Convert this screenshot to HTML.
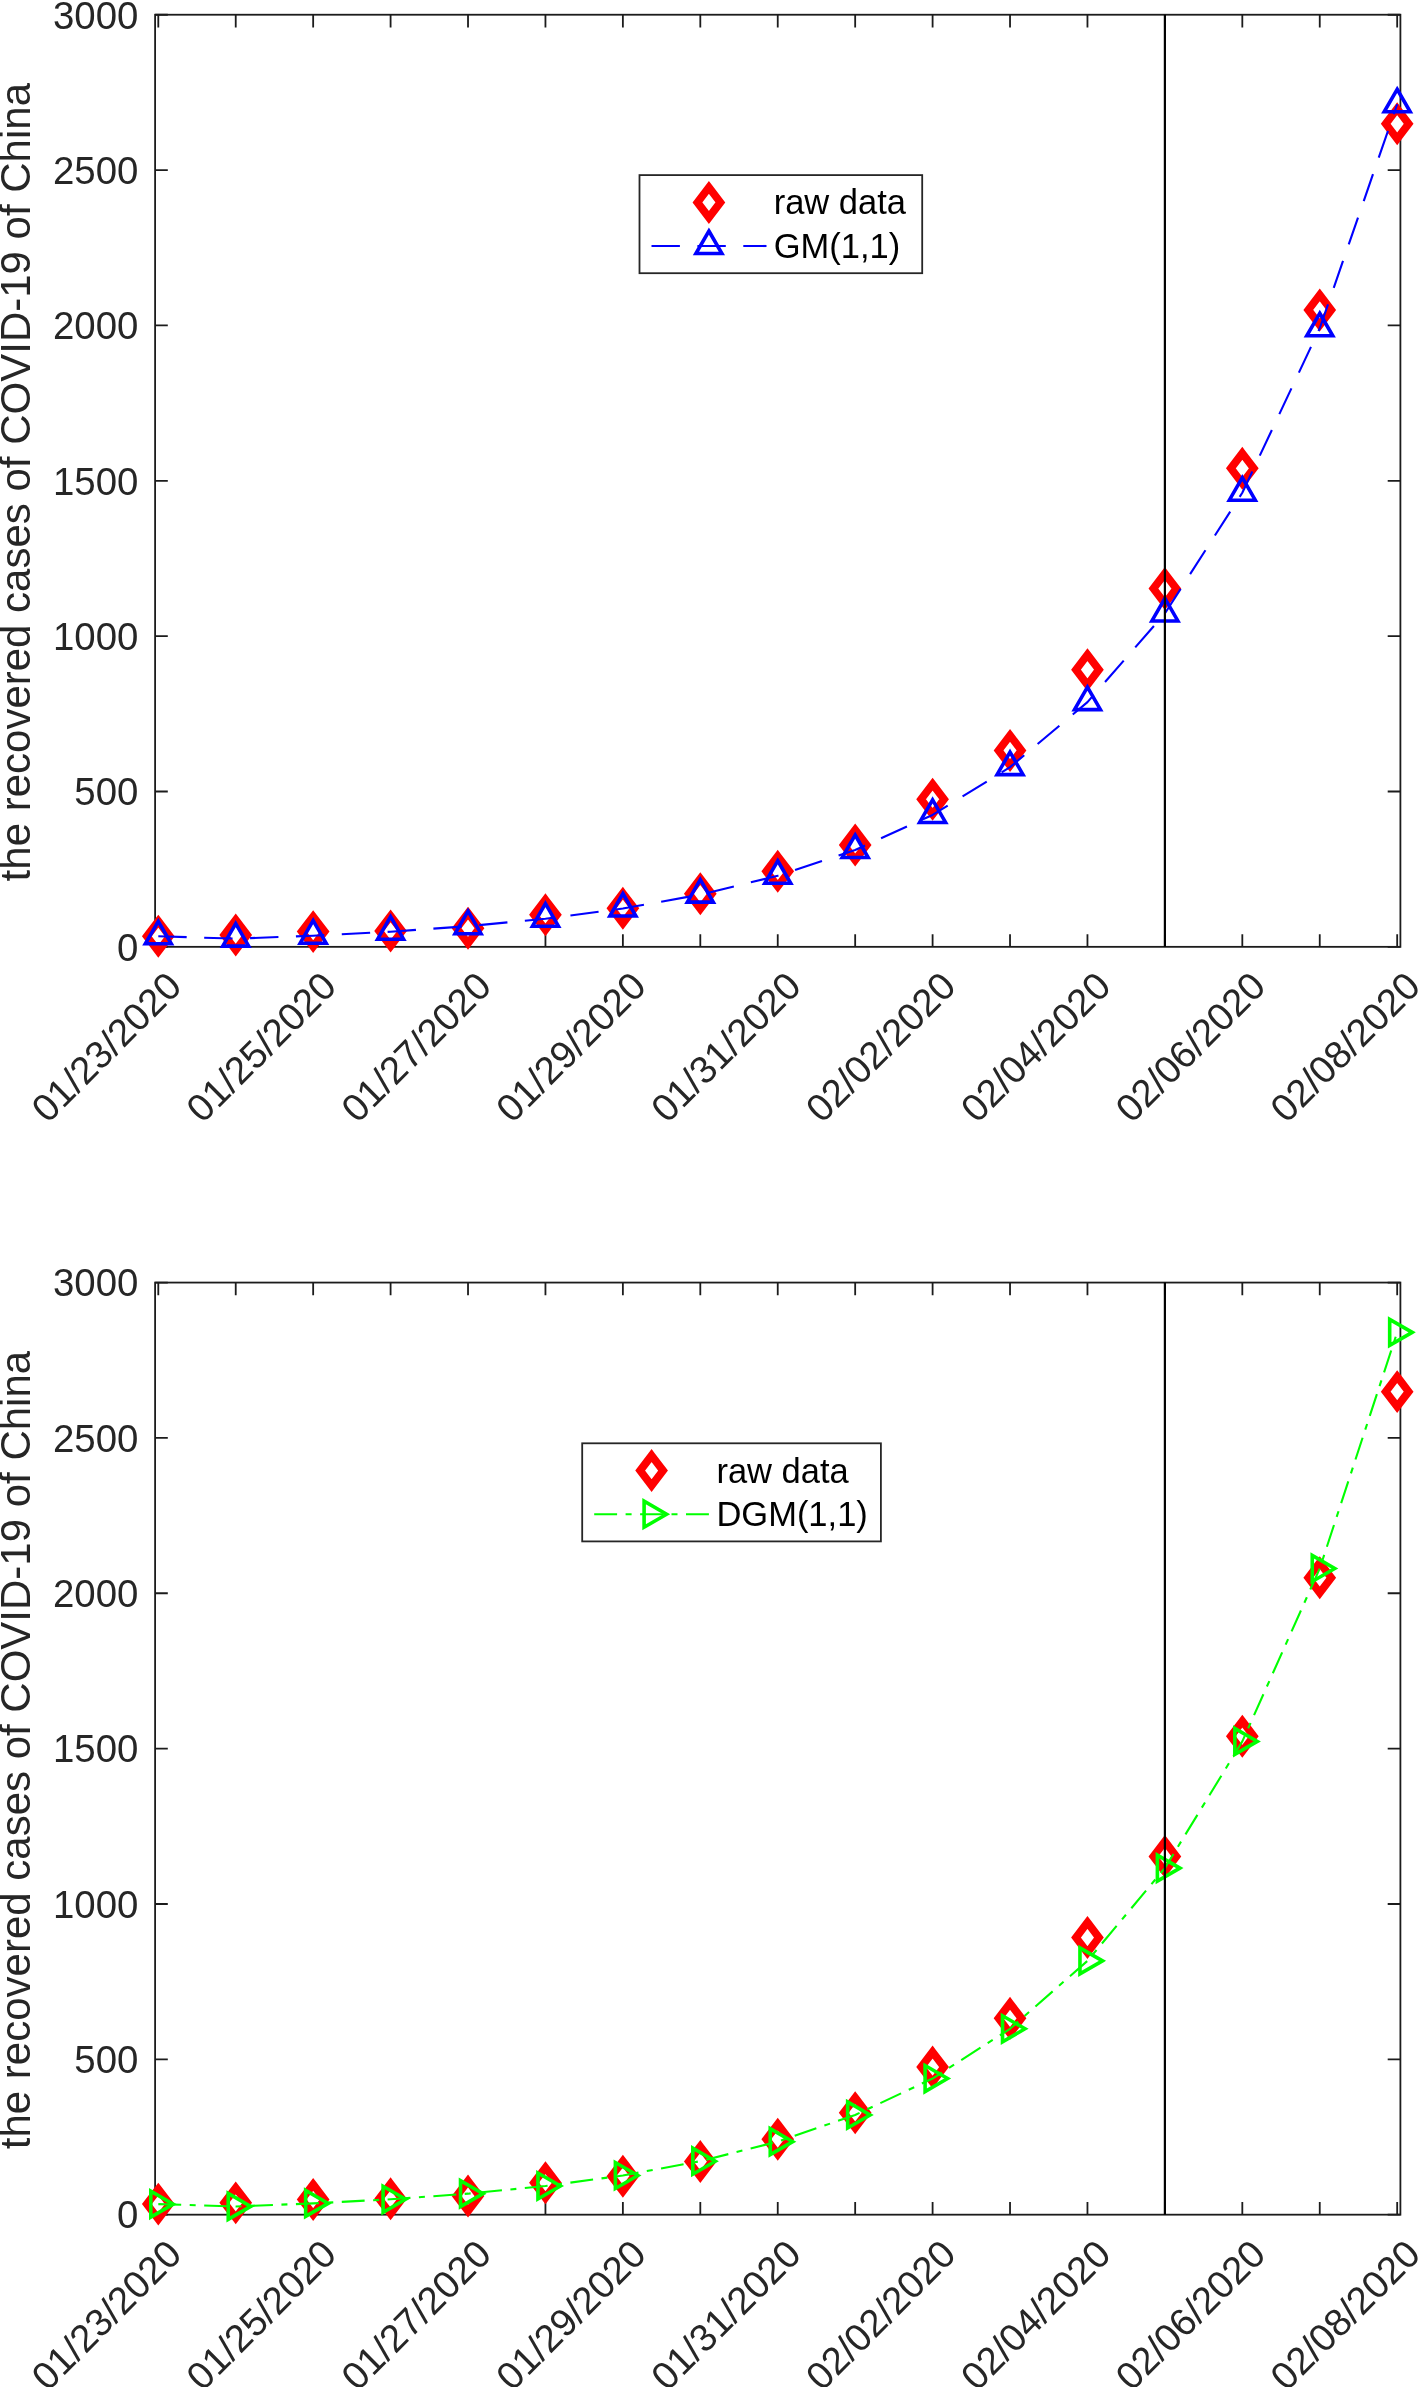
<!DOCTYPE html>
<html><head><meta charset="utf-8"><title>GM vs DGM</title>
<style>html,body{margin:0;padding:0;background:#fff;}svg{display:block;will-change:transform;}
text{font-family:"Liberation Sans",sans-serif;}</style></head>
<body><svg width="1419" height="2387" viewBox="0 0 1419 2387"><rect width="1419" height="2387" fill="#fff"/><g font-family="Liberation Sans, sans-serif" font-size="38.4" fill="#262626"><text x="138.4" y="960.64" text-anchor="end">0</text><text x="138.4" y="805.29" text-anchor="end">500</text><text x="138.4" y="649.94" text-anchor="end">1000</text><text x="138.4" y="494.59" text-anchor="end">1500</text><text x="138.4" y="339.23" text-anchor="end">2000</text><text x="138.4" y="183.88" text-anchor="end">2500</text><text x="138.4" y="28.53" text-anchor="end">3000</text><text transform="translate(183.60,988.44) rotate(-45)" text-anchor="end">01/23/2020</text><text transform="translate(338.46,988.44) rotate(-45)" text-anchor="end">01/25/2020</text><text transform="translate(493.32,988.44) rotate(-45)" text-anchor="end">01/27/2020</text><text transform="translate(648.18,988.44) rotate(-45)" text-anchor="end">01/29/2020</text><text transform="translate(803.04,988.44) rotate(-45)" text-anchor="end">01/31/2020</text><text transform="translate(957.90,988.44) rotate(-45)" text-anchor="end">02/02/2020</text><text transform="translate(1112.76,988.44) rotate(-45)" text-anchor="end">02/04/2020</text><text transform="translate(1267.62,988.44) rotate(-45)" text-anchor="end">02/06/2020</text><text transform="translate(1422.48,988.44) rotate(-45)" text-anchor="end">02/08/2020</text><text transform="translate(29.9,482.19) rotate(-90)" text-anchor="middle" font-size="42">the recovered cases of COVID-19 of China</text><text x="138.4" y="2228.48" text-anchor="end">0</text><text x="138.4" y="2073.13" text-anchor="end">500</text><text x="138.4" y="1917.78" text-anchor="end">1000</text><text x="138.4" y="1762.42" text-anchor="end">1500</text><text x="138.4" y="1607.07" text-anchor="end">2000</text><text x="138.4" y="1451.72" text-anchor="end">2500</text><text x="138.4" y="1296.37" text-anchor="end">3000</text><text transform="translate(183.60,2256.28) rotate(-45)" text-anchor="end">01/23/2020</text><text transform="translate(338.46,2256.28) rotate(-45)" text-anchor="end">01/25/2020</text><text transform="translate(493.32,2256.28) rotate(-45)" text-anchor="end">01/27/2020</text><text transform="translate(648.18,2256.28) rotate(-45)" text-anchor="end">01/29/2020</text><text transform="translate(803.04,2256.28) rotate(-45)" text-anchor="end">01/31/2020</text><text transform="translate(957.90,2256.28) rotate(-45)" text-anchor="end">02/02/2020</text><text transform="translate(1112.76,2256.28) rotate(-45)" text-anchor="end">02/04/2020</text><text transform="translate(1267.62,2256.28) rotate(-45)" text-anchor="end">02/06/2020</text><text transform="translate(1422.48,2256.28) rotate(-45)" text-anchor="end">02/08/2020</text><text transform="translate(29.9,1750.03) rotate(-90)" text-anchor="middle" font-size="42">the recovered cases of COVID-19 of China</text></g><rect x="155.1" y="14.73" width="1245.30" height="932.11" fill="none" stroke="#1c1c1c" stroke-width="1.8"/><path d="M155.1 946.84h12.7M1400.4 946.84h-12.7M155.1 791.49h12.7M1400.4 791.49h-12.7M155.1 636.14h12.7M1400.4 636.14h-12.7M155.1 480.79h12.7M1400.4 480.79h-12.7M155.1 325.43h12.7M1400.4 325.43h-12.7M155.1 170.08h12.7M1400.4 170.08h-12.7M155.1 14.73h12.7M1400.4 14.73h-12.7M158.30 946.84v-12.7M158.30 14.73v12.7M235.73 946.84v-12.7M235.73 14.73v12.7M313.16 946.84v-12.7M313.16 14.73v12.7M390.59 946.84v-12.7M390.59 14.73v12.7M468.02 946.84v-12.7M468.02 14.73v12.7M545.45 946.84v-12.7M545.45 14.73v12.7M622.88 946.84v-12.7M622.88 14.73v12.7M700.31 946.84v-12.7M700.31 14.73v12.7M777.74 946.84v-12.7M777.74 14.73v12.7M855.17 946.84v-12.7M855.17 14.73v12.7M932.60 946.84v-12.7M932.60 14.73v12.7M1010.03 946.84v-12.7M1010.03 14.73v12.7M1087.46 946.84v-12.7M1087.46 14.73v12.7M1164.89 946.84v-12.7M1164.89 14.73v12.7M1242.32 946.84v-12.7M1242.32 14.73v12.7M1319.75 946.84v-12.7M1319.75 14.73v12.7M1397.18 946.84v-12.7M1397.18 14.73v12.7" stroke="#1c1c1c" stroke-width="1.8" fill="none"/><path d="M158.30 921.23L169.75 936.28L158.30 951.33L146.85 936.28Z" fill="#fff" stroke="#FF0000" stroke-width="7.8" stroke-linejoin="miter"/><path d="M235.73 919.98L247.18 935.03L235.73 950.08L224.28 935.03Z" fill="#fff" stroke="#FF0000" stroke-width="7.8" stroke-linejoin="miter"/><path d="M313.16 916.57L324.61 931.62L313.16 946.67L301.71 931.62Z" fill="#fff" stroke="#FF0000" stroke-width="7.8" stroke-linejoin="miter"/><path d="M390.59 915.94L402.04 930.99L390.59 946.04L379.14 930.99Z" fill="#fff" stroke="#FF0000" stroke-width="7.8" stroke-linejoin="miter"/><path d="M468.02 913.15L479.47 928.20L468.02 943.25L456.57 928.20Z" fill="#fff" stroke="#FF0000" stroke-width="7.8" stroke-linejoin="miter"/><path d="M545.45 899.79L556.90 914.84L545.45 929.89L534.00 914.84Z" fill="#fff" stroke="#FF0000" stroke-width="7.8" stroke-linejoin="miter"/><path d="M622.88 893.26L634.33 908.31L622.88 923.36L611.43 908.31Z" fill="#fff" stroke="#FF0000" stroke-width="7.8" stroke-linejoin="miter"/><path d="M700.31 878.66L711.76 893.71L700.31 908.76L688.86 893.71Z" fill="#fff" stroke="#FF0000" stroke-width="7.8" stroke-linejoin="miter"/><path d="M777.74 856.29L789.19 871.34L777.74 886.39L766.29 871.34Z" fill="#fff" stroke="#FF0000" stroke-width="7.8" stroke-linejoin="miter"/><path d="M855.17 829.88L866.62 844.93L855.17 859.98L843.72 844.93Z" fill="#fff" stroke="#FF0000" stroke-width="7.8" stroke-linejoin="miter"/><path d="M932.60 784.21L944.05 799.26L932.60 814.31L921.15 799.26Z" fill="#fff" stroke="#FF0000" stroke-width="7.8" stroke-linejoin="miter"/><path d="M1010.03 735.43L1021.48 750.48L1010.03 765.53L998.58 750.48Z" fill="#fff" stroke="#FF0000" stroke-width="7.8" stroke-linejoin="miter"/><path d="M1087.46 654.64L1098.91 669.69L1087.46 684.74L1076.01 669.69Z" fill="#fff" stroke="#FF0000" stroke-width="7.8" stroke-linejoin="miter"/><path d="M1164.89 573.55L1176.34 588.60L1164.89 603.65L1153.44 588.60Z" fill="#fff" stroke="#FF0000" stroke-width="7.8" stroke-linejoin="miter"/><path d="M1242.32 453.31L1253.77 468.36L1242.32 483.41L1230.87 468.36Z" fill="#fff" stroke="#FF0000" stroke-width="7.8" stroke-linejoin="miter"/><path d="M1319.75 294.85L1331.20 309.90L1319.75 324.95L1308.30 309.90Z" fill="#fff" stroke="#FF0000" stroke-width="7.8" stroke-linejoin="miter"/><path d="M1397.18 108.74L1408.63 123.79L1397.18 138.84L1385.73 123.79Z" fill="#fff" stroke="#FF0000" stroke-width="7.8" stroke-linejoin="miter"/><polyline points="158.30,936.28 235.73,938.67 313.16,935.71 390.59,931.68 468.02,926.19 545.45,918.71 622.88,908.52 700.31,894.65 777.74,875.75 855.17,850.00 932.60,814.93 1010.03,767.16 1087.46,702.09 1164.89,613.46 1242.32,492.72 1319.75,328.26 1397.18,104.25" fill="none" stroke="#0000FF" stroke-width="2.1" stroke-dasharray="28.4 17.5" stroke-linejoin="round"/><path d="M158.30 921.28L171.29 943.78L145.31 943.78Z" fill="none" stroke="#0000FF" stroke-width="3.6" stroke-linejoin="miter"/><path d="M235.73 923.67L248.72 946.17L222.74 946.17Z" fill="none" stroke="#0000FF" stroke-width="3.6" stroke-linejoin="miter"/><path d="M313.16 920.71L326.15 943.21L300.17 943.21Z" fill="none" stroke="#0000FF" stroke-width="3.6" stroke-linejoin="miter"/><path d="M390.59 916.68L403.58 939.18L377.60 939.18Z" fill="none" stroke="#0000FF" stroke-width="3.6" stroke-linejoin="miter"/><path d="M468.02 911.19L481.01 933.69L455.03 933.69Z" fill="none" stroke="#0000FF" stroke-width="3.6" stroke-linejoin="miter"/><path d="M545.45 903.71L558.44 926.21L532.46 926.21Z" fill="none" stroke="#0000FF" stroke-width="3.6" stroke-linejoin="miter"/><path d="M622.88 893.52L635.87 916.02L609.89 916.02Z" fill="none" stroke="#0000FF" stroke-width="3.6" stroke-linejoin="miter"/><path d="M700.31 879.65L713.30 902.15L687.32 902.15Z" fill="none" stroke="#0000FF" stroke-width="3.6" stroke-linejoin="miter"/><path d="M777.74 860.75L790.73 883.25L764.75 883.25Z" fill="none" stroke="#0000FF" stroke-width="3.6" stroke-linejoin="miter"/><path d="M855.17 835.00L868.16 857.50L842.18 857.50Z" fill="none" stroke="#0000FF" stroke-width="3.6" stroke-linejoin="miter"/><path d="M932.60 799.93L945.59 822.43L919.61 822.43Z" fill="none" stroke="#0000FF" stroke-width="3.6" stroke-linejoin="miter"/><path d="M1010.03 752.16L1023.02 774.66L997.04 774.66Z" fill="none" stroke="#0000FF" stroke-width="3.6" stroke-linejoin="miter"/><path d="M1087.46 687.09L1100.45 709.59L1074.47 709.59Z" fill="none" stroke="#0000FF" stroke-width="3.6" stroke-linejoin="miter"/><path d="M1164.89 598.46L1177.88 620.96L1151.90 620.96Z" fill="none" stroke="#0000FF" stroke-width="3.6" stroke-linejoin="miter"/><path d="M1242.32 477.72L1255.31 500.22L1229.33 500.22Z" fill="none" stroke="#0000FF" stroke-width="3.6" stroke-linejoin="miter"/><path d="M1319.75 313.26L1332.74 335.76L1306.76 335.76Z" fill="none" stroke="#0000FF" stroke-width="3.6" stroke-linejoin="miter"/><path d="M1397.18 89.25L1410.17 111.75L1384.19 111.75Z" fill="none" stroke="#0000FF" stroke-width="3.6" stroke-linejoin="miter"/><line x1="1164.89" y1="14.73" x2="1164.89" y2="946.84" stroke="#000" stroke-width="2.2"/><rect x="639.5" y="175.1" width="282.7" height="98.1" fill="#fff" stroke="#262626" stroke-width="1.8"/><path d="M708.90 187.35L720.35 202.40L708.90 217.45L697.45 202.40Z" fill="#fff" stroke="#FF0000" stroke-width="7.8" stroke-linejoin="miter"/><line x1="651.50" y1="246.00" x2="766.50" y2="246.00" stroke="#0000FF" stroke-width="2.1" stroke-dasharray="28.4 17.5"/><path d="M708.90 231.00L721.89 253.50L695.91 253.50Z" fill="none" stroke="#0000FF" stroke-width="3.6" stroke-linejoin="miter"/><text x="773.70" y="214.40" font-size="34.5" fill="#000">raw data</text><text x="773.70" y="257.80" font-size="34.5" fill="#000">GM(1,1)</text><rect x="155.1" y="1282.57" width="1245.30" height="932.11" fill="none" stroke="#1c1c1c" stroke-width="1.8"/><path d="M155.1 2214.68h12.7M1400.4 2214.68h-12.7M155.1 2059.33h12.7M1400.4 2059.33h-12.7M155.1 1903.98h12.7M1400.4 1903.98h-12.7M155.1 1748.62h12.7M1400.4 1748.62h-12.7M155.1 1593.27h12.7M1400.4 1593.27h-12.7M155.1 1437.92h12.7M1400.4 1437.92h-12.7M155.1 1282.57h12.7M1400.4 1282.57h-12.7M158.30 2214.68v-12.7M158.30 1282.57v12.7M235.73 2214.68v-12.7M235.73 1282.57v12.7M313.16 2214.68v-12.7M313.16 1282.57v12.7M390.59 2214.68v-12.7M390.59 1282.57v12.7M468.02 2214.68v-12.7M468.02 1282.57v12.7M545.45 2214.68v-12.7M545.45 1282.57v12.7M622.88 2214.68v-12.7M622.88 1282.57v12.7M700.31 2214.68v-12.7M700.31 1282.57v12.7M777.74 2214.68v-12.7M777.74 1282.57v12.7M855.17 2214.68v-12.7M855.17 1282.57v12.7M932.60 2214.68v-12.7M932.60 1282.57v12.7M1010.03 2214.68v-12.7M1010.03 1282.57v12.7M1087.46 2214.68v-12.7M1087.46 1282.57v12.7M1164.89 2214.68v-12.7M1164.89 1282.57v12.7M1242.32 2214.68v-12.7M1242.32 1282.57v12.7M1319.75 2214.68v-12.7M1319.75 1282.57v12.7M1397.18 2214.68v-12.7M1397.18 1282.57v12.7" stroke="#1c1c1c" stroke-width="1.8" fill="none"/><path d="M158.30 2189.07L169.75 2204.12L158.30 2219.17L146.85 2204.12Z" fill="#fff" stroke="#FF0000" stroke-width="7.8" stroke-linejoin="miter"/><path d="M235.73 2187.82L247.18 2202.87L235.73 2217.92L224.28 2202.87Z" fill="#fff" stroke="#FF0000" stroke-width="7.8" stroke-linejoin="miter"/><path d="M313.16 2184.41L324.61 2199.46L313.16 2214.51L301.71 2199.46Z" fill="#fff" stroke="#FF0000" stroke-width="7.8" stroke-linejoin="miter"/><path d="M390.59 2183.78L402.04 2198.83L390.59 2213.88L379.14 2198.83Z" fill="#fff" stroke="#FF0000" stroke-width="7.8" stroke-linejoin="miter"/><path d="M468.02 2180.99L479.47 2196.04L468.02 2211.09L456.57 2196.04Z" fill="#fff" stroke="#FF0000" stroke-width="7.8" stroke-linejoin="miter"/><path d="M545.45 2167.63L556.90 2182.68L545.45 2197.73L534.00 2182.68Z" fill="#fff" stroke="#FF0000" stroke-width="7.8" stroke-linejoin="miter"/><path d="M622.88 2161.10L634.33 2176.15L622.88 2191.20L611.43 2176.15Z" fill="#fff" stroke="#FF0000" stroke-width="7.8" stroke-linejoin="miter"/><path d="M700.31 2146.50L711.76 2161.55L700.31 2176.60L688.86 2161.55Z" fill="#fff" stroke="#FF0000" stroke-width="7.8" stroke-linejoin="miter"/><path d="M777.74 2124.13L789.19 2139.18L777.74 2154.23L766.29 2139.18Z" fill="#fff" stroke="#FF0000" stroke-width="7.8" stroke-linejoin="miter"/><path d="M855.17 2097.72L866.62 2112.77L855.17 2127.82L843.72 2112.77Z" fill="#fff" stroke="#FF0000" stroke-width="7.8" stroke-linejoin="miter"/><path d="M932.60 2052.05L944.05 2067.10L932.60 2082.15L921.15 2067.10Z" fill="#fff" stroke="#FF0000" stroke-width="7.8" stroke-linejoin="miter"/><path d="M1010.03 2003.27L1021.48 2018.32L1010.03 2033.37L998.58 2018.32Z" fill="#fff" stroke="#FF0000" stroke-width="7.8" stroke-linejoin="miter"/><path d="M1087.46 1922.48L1098.91 1937.53L1087.46 1952.58L1076.01 1937.53Z" fill="#fff" stroke="#FF0000" stroke-width="7.8" stroke-linejoin="miter"/><path d="M1164.89 1841.39L1176.34 1856.44L1164.89 1871.49L1153.44 1856.44Z" fill="#fff" stroke="#FF0000" stroke-width="7.8" stroke-linejoin="miter"/><path d="M1242.32 1721.15L1253.77 1736.20L1242.32 1751.25L1230.87 1736.20Z" fill="#fff" stroke="#FF0000" stroke-width="7.8" stroke-linejoin="miter"/><path d="M1319.75 1562.69L1331.20 1577.74L1319.75 1592.79L1308.30 1577.74Z" fill="#fff" stroke="#FF0000" stroke-width="7.8" stroke-linejoin="miter"/><path d="M1397.18 1376.58L1408.63 1391.63L1397.18 1406.68L1385.73 1391.63Z" fill="#fff" stroke="#FF0000" stroke-width="7.8" stroke-linejoin="miter"/><polyline points="158.30,2204.15 235.73,2206.43 313.16,2203.41 390.59,2199.29 468.02,2193.67 545.45,2185.99 622.88,2175.51 700.31,2161.20 777.74,2141.65 855.17,2114.96 932.60,2078.52 1010.03,2028.77 1087.46,1960.83 1164.89,1868.07 1242.32,1741.41 1319.75,1568.47 1397.18,1332.33" fill="none" stroke="#00FF00" stroke-width="2.1" stroke-dasharray="22.9 8.5 6.0 8.5" stroke-linejoin="round"/><path d="M173.30 2204.15L150.80 2217.14L150.80 2191.16Z" fill="none" stroke="#00FF00" stroke-width="3.6" stroke-linejoin="miter"/><path d="M250.73 2206.43L228.23 2219.42L228.23 2193.44Z" fill="none" stroke="#00FF00" stroke-width="3.6" stroke-linejoin="miter"/><path d="M328.16 2203.41L305.66 2216.40L305.66 2190.42Z" fill="none" stroke="#00FF00" stroke-width="3.6" stroke-linejoin="miter"/><path d="M405.59 2199.29L383.09 2212.28L383.09 2186.30Z" fill="none" stroke="#00FF00" stroke-width="3.6" stroke-linejoin="miter"/><path d="M483.02 2193.67L460.52 2206.66L460.52 2180.68Z" fill="none" stroke="#00FF00" stroke-width="3.6" stroke-linejoin="miter"/><path d="M560.45 2185.99L537.95 2198.98L537.95 2173.00Z" fill="none" stroke="#00FF00" stroke-width="3.6" stroke-linejoin="miter"/><path d="M637.88 2175.51L615.38 2188.50L615.38 2162.52Z" fill="none" stroke="#00FF00" stroke-width="3.6" stroke-linejoin="miter"/><path d="M715.31 2161.20L692.81 2174.19L692.81 2148.21Z" fill="none" stroke="#00FF00" stroke-width="3.6" stroke-linejoin="miter"/><path d="M792.74 2141.65L770.24 2154.64L770.24 2128.66Z" fill="none" stroke="#00FF00" stroke-width="3.6" stroke-linejoin="miter"/><path d="M870.17 2114.96L847.67 2127.95L847.67 2101.97Z" fill="none" stroke="#00FF00" stroke-width="3.6" stroke-linejoin="miter"/><path d="M947.60 2078.52L925.10 2091.51L925.10 2065.53Z" fill="none" stroke="#00FF00" stroke-width="3.6" stroke-linejoin="miter"/><path d="M1025.03 2028.77L1002.53 2041.76L1002.53 2015.78Z" fill="none" stroke="#00FF00" stroke-width="3.6" stroke-linejoin="miter"/><path d="M1102.46 1960.83L1079.96 1973.82L1079.96 1947.84Z" fill="none" stroke="#00FF00" stroke-width="3.6" stroke-linejoin="miter"/><path d="M1179.89 1868.07L1157.39 1881.06L1157.39 1855.08Z" fill="none" stroke="#00FF00" stroke-width="3.6" stroke-linejoin="miter"/><path d="M1257.32 1741.41L1234.82 1754.40L1234.82 1728.42Z" fill="none" stroke="#00FF00" stroke-width="3.6" stroke-linejoin="miter"/><path d="M1334.75 1568.47L1312.25 1581.46L1312.25 1555.48Z" fill="none" stroke="#00FF00" stroke-width="3.6" stroke-linejoin="miter"/><path d="M1412.18 1332.33L1389.68 1345.32L1389.68 1319.34Z" fill="none" stroke="#00FF00" stroke-width="3.6" stroke-linejoin="miter"/><line x1="1164.89" y1="1282.57" x2="1164.89" y2="2214.68" stroke="#000" stroke-width="2.2"/><rect x="582.2" y="1443.3" width="298.7" height="98.1" fill="#fff" stroke="#262626" stroke-width="1.8"/><path d="M651.60 1455.55L663.05 1470.60L651.60 1485.65L640.15 1470.60Z" fill="#fff" stroke="#FF0000" stroke-width="7.8" stroke-linejoin="miter"/><line x1="594.20" y1="1514.20" x2="709.20" y2="1514.20" stroke="#00FF00" stroke-width="2.1" stroke-dasharray="22.9 8.5 6.0 8.5"/><path d="M666.60 1514.20L644.10 1527.19L644.10 1501.21Z" fill="none" stroke="#00FF00" stroke-width="3.6" stroke-linejoin="miter"/><text x="716.40" y="1482.60" font-size="34.5" fill="#000">raw data</text><text x="716.40" y="1526.00" font-size="34.5" fill="#000">DGM(1,1)</text></svg></body></html>
